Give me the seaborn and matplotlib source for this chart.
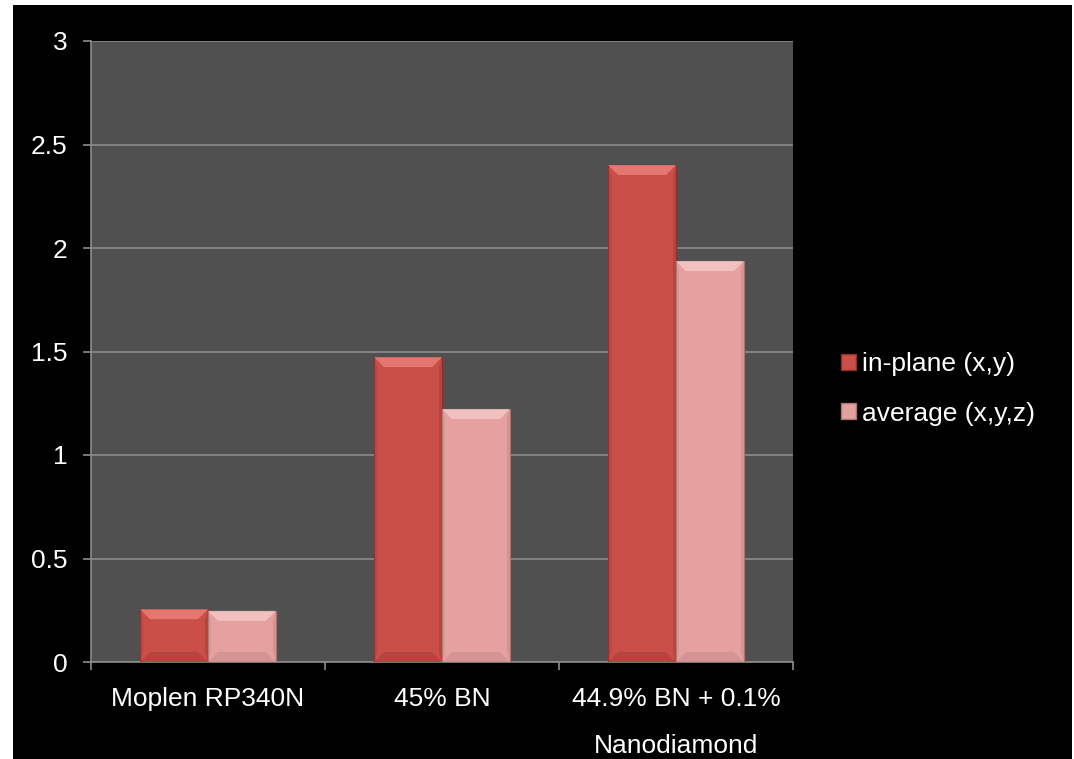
import numpy as np
import pandas as pd
import matplotlib
matplotlib.use("Agg")
import matplotlib.pyplot as plt
import seaborn as sns
from matplotlib.patches import Rectangle, Polygon
from matplotlib.transforms import IdentityTransform

# ---- data ----
categories = ["Moplen RP340N", "45% BN", "44.9% BN + 0.1%\nNanodiamond"]
series_names = ["in-plane (x,y)", "average (x,y,z)"]
in_plane = [0.255, 1.473, 2.401]
average = [0.247, 1.222, 1.937]
y_ticks = [0, 0.5, 1, 1.5, 2, 2.5, 3]
y_tick_labels = ["0", "0.5", "1", "1.5", "2", "2.5", "3"]

df = pd.DataFrame({
    "category": categories * 2,
    "series": [series_names[0]] * 3 + [series_names[1]] * 3,
    "value": in_plane + average,
})

sns.set_theme(style="dark")
plt.rcParams["font.family"] = ["Liberation Sans", "DejaVu Sans"]

face_colors = ["#c94f48", "#e5a19f"]
edge_colors = ["#8a302c", "#a87472"]
light_colors = ["#f08a82", "#f8d0ce"]
dark_colors = ["#a23c37", "#c28886"]

W, H = 1074, 759
DPI = 100
fig = plt.figure(figsize=(W / DPI, H / DPI), dpi=DPI, facecolor="white")
fig.patches.append(Rectangle((13 / W, 0), (1072 - 13) / W, 1 - 5 / H,
                             transform=fig.transFigure, facecolor="black",
                             edgecolor="none", zorder=-10))

ax = fig.add_axes([91 / W, 1 - 662 / H, (793 - 91) / W, (662 - 41) / H])
ax.set_facecolor("#505050")

sns.barplot(data=df, x="category", y="value", hue="series", order=categories,
            hue_order=series_names, palette=face_colors, width=0.58, gap=0,
            saturation=1, ax=ax, legend=False, zorder=3, linewidth=0.8)

ax.set_xlim(-0.5, 2.5)
ax.set_ylim(0, 3)

# style bars per series, with bevel decorations derived from bar geometry
fig.canvas.draw()
n = len(categories)
for i, p in enumerate(ax.patches[: 2 * n]):
    s = i // n
    p.set_edgecolor(edge_colors[s])
    p.set_facecolor(face_colors[s])
    x0, y0 = p.get_x(), p.get_y()
    w, h = p.get_width(), p.get_height()
    (px0, py0) = ax.transData.transform((x0, y0))
    (px1, py1) = ax.transData.transform((x0 + w, y0 + h))
    b = 10
    top = Polygon([(px0, py1), (px1, py1), (px1 - b, py1 - b), (px0 + b, py1 - b)],
                  closed=True, transform=IdentityTransform(), facecolor=light_colors[s],
                  edgecolor="none", alpha=0.7, zorder=4)
    bot = Polygon([(px0, py0), (px1, py0), (px1 - b, py0 + b), (px0 + b, py0 + b)],
                  closed=True, transform=IdentityTransform(), facecolor=dark_colors[s],
                  edgecolor="none", alpha=0.5, zorder=4)
    side_l = Polygon([(px0, py0), (px0 + 3, py0 + b), (px0 + 3, py1 - b), (px0, py1)],
                     closed=True, transform=IdentityTransform(), facecolor=dark_colors[s],
                     edgecolor="none", alpha=0.4, zorder=4)
    side_r = Polygon([(px1, py0), (px1 - 3, py0 + b), (px1 - 3, py1 - b), (px1, py1)],
                     closed=True, transform=IdentityTransform(), facecolor=dark_colors[s],
                     edgecolor="none", alpha=0.5, zorder=4)
    for poly in (top, bot, side_l, side_r):
        fig.patches.append(poly)

grid_color = "#8c8c8c"
ax.set_yticks(y_ticks)
ax.set_yticklabels(y_tick_labels)
ax.yaxis.grid(True, color=grid_color, linewidth=1.2, zorder=0)
ax.set_axisbelow(True)
ax.xaxis.grid(False)

ax.set_xticks(range(n))
ax.set_xticklabels(categories, linespacing=2.2)
ax.set_xticks([-0.5, 0.5, 1.5, 2.5], minor=True)
ax.tick_params(axis="x", which="major", bottom=True, length=0, pad=18,
               colors="white", labelsize=19)
ax.tick_params(axis="x", which="minor", bottom=True, length=6, width=1.2,
               color=grid_color, direction="out")
ax.tick_params(axis="y", which="major", left=True, length=6, width=1.2,
               color=grid_color, direction="out", pad=11, labelcolor="white",
               labelsize=19)

for side in ["top", "right"]:
    ax.spines[side].set_visible(False)
for side in ["left", "bottom"]:
    ax.spines[side].set_visible(True)
    ax.spines[side].set_color(grid_color)
    ax.spines[side].set_linewidth(1.2)

ax.set_xlabel("")
ax.set_ylabel("")

handles = [Rectangle((0, 0), 1, 1, facecolor=face_colors[k], edgecolor=edge_colors[k])
           for k in range(2)]
fig.legend(handles, series_names, loc="center left",
           bbox_to_anchor=(841 / W, 1 - 389 / H), frameon=False,
           fontsize=19, labelcolor="white", handlelength=0.55, handleheight=0.55,
           handletextpad=0.25, labelspacing=0.95, borderpad=0, borderaxespad=0)

fig.savefig("out.png", dpi=DPI, facecolor=fig.get_facecolor())
